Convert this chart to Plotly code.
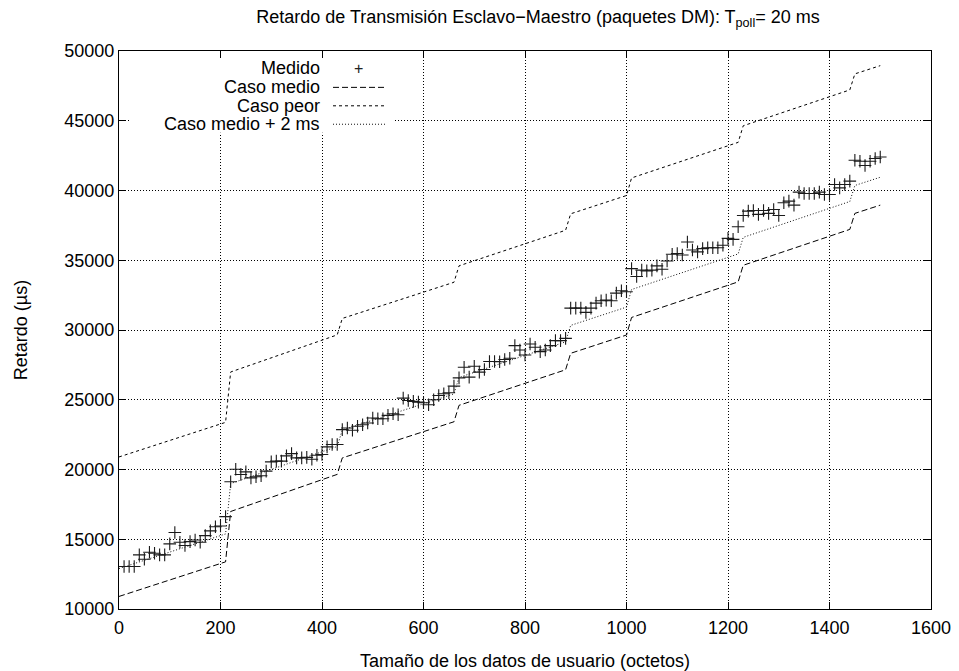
import plotly.graph_objects as go

# ---------------- data ----------------
tamano = list(range(10, 1510, 10))  # user data size (octets)
medido = [
    13050, 13050, 13050, 13880, 13570, 14070, 14000, 13880, 13880, 14670,
    15480, 14790, 14550, 14830, 14950, 14790, 15260, 15600, 15900, 15950,
    16620, 19120, 20020, 19640, 19830, 19400, 19480, 19550, 19880, 20550,
    20600, 20600, 20980, 21140, 20830, 20830, 20870, 20740, 21020, 21070,
    21620, 21790, 21790, 22860, 22980, 22810, 23100, 23210, 23330, 23690,
    23640, 23640, 23880, 24000, 23930, 25120, 24950, 24880, 24830, 24790,
    24640, 25000, 25310, 25430, 25500, 25980, 26570, 27330, 26620, 27400,
    26980, 27170, 27740, 27740, 27720, 27880, 27980, 28880, 28570, 28210,
    29000, 28760, 28450, 28570, 28880, 29240, 29240, 29400, 31570, 31570,
    31570, 31260, 31570, 31930, 32100, 32140, 32100, 32640, 32810, 32740,
    34400, 33830, 34290, 34240, 34290, 34600, 34360, 34950, 35430, 35480,
    35380, 36310, 35740, 35600, 35830, 35900, 35900, 35900, 36070, 36570,
    36500, 37400, 38210, 38520, 38570, 38290, 38570, 38360, 38640, 38210,
    39120, 39240, 38950, 39880, 39790, 39790, 39790, 39880, 39710, 39710,
    40430, 40190, 40430, 40670, 42170, 42100, 41790, 42100, 42290, 42400,
]

modelo_x = [0, 210, 220, 430, 440, 660, 670, 880, 890, 1000, 1010, 1220, 1230, 1440, 1450, 1500]
caso_medio = [10900, 13380, 16990, 19650, 20830, 23420, 24600, 27150, 28330, 29640,
              30900, 33450, 34640, 37210, 38360, 38950]
caso_peor = [20900, 23380, 26990, 29650, 30830, 33420, 34600, 37150, 38330, 39640,
             40900, 43450, 44640, 47210, 48360, 48950]
caso_medio_2ms = [12900, 15380, 18990, 21650, 22830, 25420, 26600, 29150, 30330, 31640,
                  32900, 35450, 36640, 39210, 40360, 40950]

legend_labels = ["Medido", "Caso medio", "Caso peor", "Caso medio + 2 ms"]

FONT = "Liberation Sans, Arial, Helvetica, sans-serif"
FS = 18

fig = go.Figure()
fig.add_trace(go.Scatter(x=modelo_x, y=caso_medio, mode="lines", name=legend_labels[1],
                         line=dict(color="#000000", width=1, dash="6px,3px")))
fig.add_trace(go.Scatter(x=modelo_x, y=caso_peor, mode="lines", name=legend_labels[2],
                         line=dict(color="#000000", width=1, dash="3px,3px")))
fig.add_trace(go.Scatter(x=modelo_x, y=caso_medio_2ms, mode="lines", name=legend_labels[3],
                         line=dict(color="#111111", width=1, dash="1px,2px")))
fig.add_trace(go.Scatter(x=tamano, y=medido, mode="markers", name=legend_labels[0],
                         marker=dict(symbol="cross-thin", size=9, color="#1a1a1a",
                                     line=dict(width=1.1, color="#1a1a1a"))))

# ---- gnuplot-style key (text right-aligned, sample on the right) ----
# positions below are screen pixels of the plot frame (page has an 8px body margin)
pw, ph, left, bottom = 812.0, 560.0, 119.0, 611.0
def px(x):
    return (x - left) / pw
def py(y):
    return (bottom - y) / ph

rows = [68.5, 87.5, 106, 124.5]
shapes = [dict(type="rect", xref="paper", yref="paper", x0=px(129), x1=px(395),
               y0=py(133), y1=py(58), fillcolor="white", line=dict(width=0), layer="above")]
dashes = ["6px,3px", "3px,3px", "1px,2px"]
colors = ["#000000", "#000000", "#111111"]
for k in range(3):
    shapes.append(dict(type="line", xref="paper", yref="paper", x0=px(333), x1=px(385),
                       y0=py(rows[k + 1]), y1=py(rows[k + 1]), layer="above",
                       line=dict(color=colors[k], width=1, dash=dashes[k])))
annotations = []
for k, lab in enumerate(legend_labels):
    annotations.append(dict(text=lab, xref="paper", yref="paper", x=px(321), y=py(rows[k]),
                            xanchor="right", yanchor="middle", showarrow=False, borderpad=0,
                            font=dict(family=FONT, size=FS, color="black")))
annotations.append(dict(text="+", xref="paper", yref="paper", x=px(358), y=py(rows[0]),
                        xanchor="center", yanchor="middle", showarrow=False, borderpad=0,
                        font=dict(family=FONT, size=16, color="#222222")))

axis_common = dict(showline=True, linecolor="black", linewidth=1, mirror="allticks",
                   ticks="inside", ticklen=7, tickcolor="black", tickwidth=1,
                   showgrid=True, gridcolor="#000000", gridwidth=1, griddash="1px,2px",
                   zeroline=False, tickfont=dict(family=FONT, size=FS, color="black"))

fig.update_layout(
    width=959, height=671,
    margin=dict(l=111, r=36, t=43, b=68),
    paper_bgcolor="white", plot_bgcolor="white",
    showlegend=False,
    font=dict(family=FONT, size=FS, color="black"),
    title=dict(text="Retardo de Transmisión Esclavo−Maestro (paquetes DM): T<sub>poll</sub>= 20 ms",
               x=530 / 959, xanchor="center", y=1 - 9 / 671, yanchor="middle",
               font=dict(family=FONT, size=FS, color="black")),
    xaxis=dict(range=[0, 1600], dtick=200, tick0=0, tickformat="d", ticklabelstandoff=2,
               title=dict(text="Tamaño de los datos de usuario (octetos)", standoff=17,
                          font=dict(family=FONT, size=FS, color="black")),
               **axis_common),
    yaxis=dict(range=[10000, 50000], dtick=5000, tick0=10000, tickformat="d",
               title=dict(text="Retardo (µs)", standoff=32,
                          font=dict(family=FONT, size=FS, color="black")),
               **axis_common),
    shapes=shapes,
    annotations=annotations,
)

fig.write_html("out.html")
